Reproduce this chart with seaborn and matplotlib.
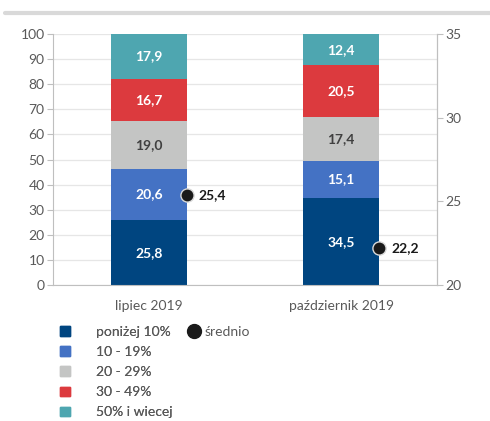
import seaborn as sns
import matplotlib.pyplot as plt
import matplotlib.lines as mlines
import matplotlib.patches as mpatches
import numpy as np

months = ['lipiec 2019', 'październik 2019']
groups = ['poniżej 10%', '10 - 19%', '20 - 29%', '30 - 49%', '50% i wiecej']
shares = [
    [25.8, 34.5],
    [20.6, 15.1],
    [19.0, 17.4],
    [16.7, 20.5],
    [17.9, 12.4],
]
mean_label = 'średnio'
mean_vals = [25.4, 22.2]

colors = ['#004580', '#4472c4', '#c4c5c4', '#dc3a3e', '#4ea6b0']
text_colors = ['white', 'white', '#404040', 'white', 'white']
gray = '#595959'

sns.set_style('white')
plt.rcParams['font.family'] = ['Lato', 'DejaVu Sans']

fig = plt.figure(figsize=(4.9, 4.21), dpi=100)
ax = fig.add_axes([0.108, 0.323, 0.784, 0.596])

# stacked bars: draw cumulative totals from the top layer down
tops = np.cumsum(np.array(shares), axis=0)
for i in reversed(range(len(groups))):
    sns.barplot(x=months, y=tops[i], color=colors[i], width=0.4,
                saturation=1, linewidth=0, ax=ax, zorder=2)

for i in range(len(groups)):
    for j in range(len(months)):
        mid = tops[i][j] - shares[i][j] / 2
        ax.text(j, mid, f'{shares[i][j]:.1f}'.replace('.', ','),
                ha='center', va='center', fontsize=10, fontweight='bold',
                color=text_colors[i], zorder=5)

ax.set_xlim(-0.5, 1.5)
ax.set_ylim(0, 100)
ax.set_yticks(range(0, 101, 10))
ax.yaxis.grid(True, color='#e6e6e6', linewidth=0.9, zorder=0)
ax.set_axisbelow(True)
ax.set_xticks([-0.5, 0.5, 1.5], minor=False)
ax.set_xticklabels(['', '', ''])
ax.set_xticks([0, 1], minor=True)
ax.set_xticklabels(months, minor=True)
ax.tick_params(axis='x', which='minor', length=0, pad=11, labelsize=10, labelcolor=gray)
ax.tick_params(axis='x', which='major', length=4, color='#bfbfbf')
ax.tick_params(axis='y', length=4, color='#bfbfbf', labelsize=10, labelcolor=gray, pad=2)
for side in ['left', 'bottom', 'right']:
    ax.spines[side].set_color('#bfbfbf')
ax.spines['top'].set_visible(False)
ax.set_ylabel('')

ax2 = ax.twinx()
xpos = np.arange(len(months)) + 0.2
sns.scatterplot(x=xpos, y=mean_vals, ax=ax2, color='#1a1a1a', s=90,
                edgecolor='#d9d9d9', linewidth=1, zorder=6, legend=False)
for x, v in zip(xpos, mean_vals):
    ax2.text(x + 0.06, v, f'{v:.1f}'.replace('.', ','), ha='left', va='center',
             fontsize=10, color='#1a1a1a', fontweight='bold')
ax2.set_ylim(20, 35)
ax2.set_yticks([20, 25, 30, 35])
ax2.tick_params(axis='y', length=4, color='#bfbfbf', labelsize=10, labelcolor=gray, pad=2)
for side in ['left', 'top', 'bottom']:
    ax2.spines[side].set_visible(False)
ax2.spines['right'].set_color('#bfbfbf')
ax2.set_xlim(-0.5, 1.5)

# legend: bar layers in one column, średnio beside the first row
handles = [mpatches.Patch(color=c) for c in colors]
leg1 = fig.legend(handles, groups, loc='upper left', bbox_to_anchor=(0.108, 0.242),
                  frameon=False, fontsize=10, labelcolor=gray, handlelength=0.7,
                  handleheight=0.7, handletextpad=1.9, labelspacing=0.58, borderpad=0)
mean_handle = mlines.Line2D([], [], marker='o', linestyle='', color='#1a1a1a',
                            markersize=10)
fig.legend([mean_handle], [mean_label], loc='upper left', bbox_to_anchor=(0.37, 0.242),
           frameon=False, fontsize=10, labelcolor=gray, handlelength=0.8,
           handletextpad=0.4, borderpad=0)
fig.add_artist(leg1)

# top rule
fig.add_artist(mlines.Line2D([0.01, 1.0], [0.968, 0.968], color='#d9d9d9',
                             linewidth=3, transform=fig.transFigure))

fig.savefig('out.png', dpi=100)
